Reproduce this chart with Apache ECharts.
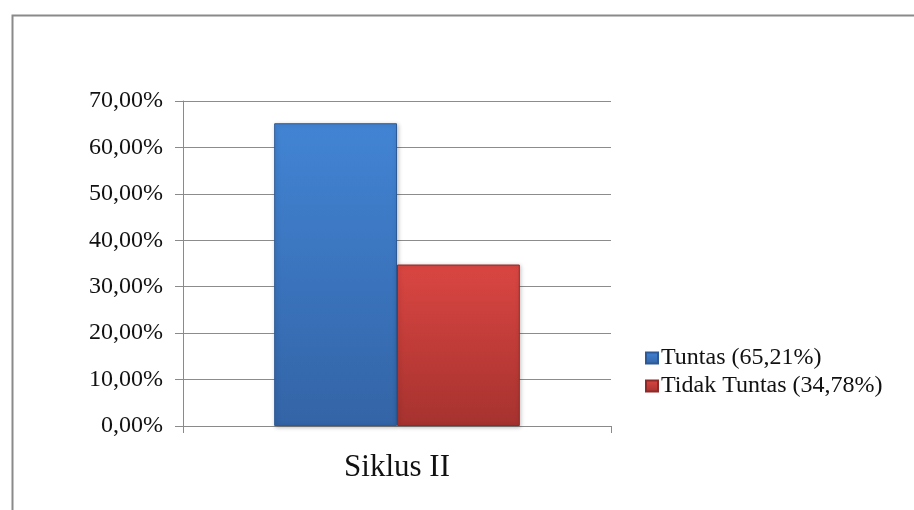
<!DOCTYPE html>
<html>
<head>
<meta charset="utf-8">
<script src="https://cdn.jsdelivr.net/npm/echarts@6/dist/echarts.min.js"></script>
<style>
  html, body { margin: 0; padding: 0; background: #fff; }
  #chart { width: 914px; height: 510px; }
</style>
</head>
<body>
<div id="chart"></div>
<script>
// Categories, series and axis ticks
const categories = ['Siklus II'];
const seriesNames = ['Tuntas (65,21%)', 'Tidak Tuntas (34,78%)'];
const tuntasValues = [65.21];
const tidakTuntasValues = [34.78];
const yTicks = [0, 10, 20, 30, 40, 50, 60, 70];

const FONT = '"Liberation Serif", "Times New Roman", serif';

function pct(v) {
  return v.toFixed(2).replace('.', ',') + '%';
}

function barGradient(top, bottom) {
  return new echarts.graphic.LinearGradient(0, 0, 0, 1, [
    { offset: 0, color: top },
    { offset: 1, color: bottom }
  ]);
}

const chart = echarts.init(document.getElementById('chart'), null, { renderer: 'canvas' });

chart.setOption({
  animation: false,
  backgroundColor: '#ffffff',
  graphic: [{
    type: 'rect',
    left: 10,
    top: 13,
    shape: { width: 1000, height: 1000 },
    style: { fill: 'none', stroke: '#8a8a8a', lineWidth: 2 },
    silent: true
  }],
  grid: { left: 183, right: 303, top: 101, bottom: 84 },
  legend: {
    orient: 'vertical',
    left: 640,
    top: 341,
    itemWidth: 12,
    itemHeight: 11,
    itemGap: 4,
    icon: 'rect',
    textStyle: { fontFamily: FONT, fontSize: 24, color: '#111', padding: [0, 0, 0, -2] },
    data: seriesNames
  },
  xAxis: {
    type: 'category',
    data: categories,
    axisLine: { lineStyle: { color: '#8a8a8a', width: 1 } },
    axisTick: { show: true, length: 7, lineStyle: { color: '#8a8a8a' } },
    axisLabel: { fontFamily: FONT, fontSize: 31, color: '#111', margin: 26 }
  },
  yAxis: {
    type: 'value',
    min: yTicks[0],
    max: yTicks[yTicks.length - 1],
    interval: yTicks[1] - yTicks[0],
    axisLine: { show: true, lineStyle: { color: '#8a8a8a', width: 1 } },
    axisTick: { show: true, length: 8, lineStyle: { color: '#8a8a8a' } },
    splitLine: { lineStyle: { color: '#8c8c8c', width: 1 } },
    axisLabel: {
      fontFamily: FONT, fontSize: 24, color: '#111', margin: 20,
      formatter: v => pct(v)
    }
  },
  series: [
    {
      name: seriesNames[0],
      type: 'bar',
      data: tuntasValues,
      barWidth: '28.7%',
      barGap: '0%',
      itemStyle: {
        color: barGradient('#4284d4', '#3364a6'),
        borderColor: '#2d5a96',
        borderWidth: 1,
        shadowColor: 'rgba(0,0,0,0.25)',
        shadowBlur: 4,
        shadowOffsetX: 1,
        shadowOffsetY: 1
      }
    },
    {
      name: seriesNames[1],
      type: 'bar',
      data: tidakTuntasValues,
      barWidth: '28.7%',
      barGap: '0%',
      itemStyle: {
        color: barGradient('#da4642', '#a6322f'),
        borderColor: '#8f2a28',
        borderWidth: 1,
        shadowColor: 'rgba(0,0,0,0.25)',
        shadowBlur: 4,
        shadowOffsetX: 1,
        shadowOffsetY: 1
      }
    }
  ]
});
</script>
</body>
</html>
